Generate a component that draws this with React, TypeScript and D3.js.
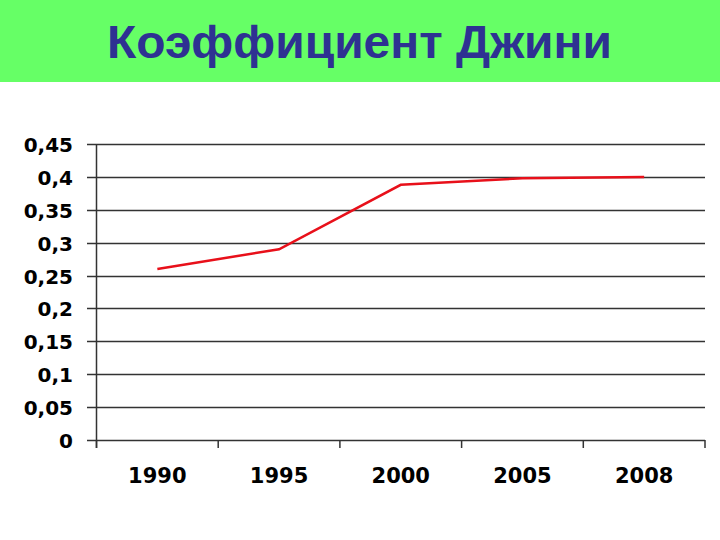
import React from "react";
import * as d3 from "d3";

const categories = ["1990", "1995", "2000", "2005", "2008"];
const giniValues = [0.26, 0.29, 0.388, 0.398, 0.4];
const yTicks = [0, 0.05, 0.1, 0.15, 0.2, 0.25, 0.3, 0.35, 0.4, 0.45];
const title = "Коэффициент Джини";

export default function App() {
  const W = 720, H = 540;
  const left = 96.5, right = 705, top = 144, bottom = 440;
  const x = d3.scaleBand<string>().domain(categories).range([left, right]);
  const y = d3.scaleLinear().domain([0, 0.45]).range([bottom, top]);
  const line = d3
    .line<number>()
    .x((_, i) => (x(categories[i]) as number) + x.bandwidth() / 2)
    .y((d) => y(d));
  const fmt = (v: number) => String(+v.toFixed(2)).replace(".", ",");
  const tickXs = [...categories.map((c) => x(c) as number), right];
  return (
    <svg
      width={W}
      height={H}
      style={{ position: "absolute", left: 0, top: 0, background: "#fff" }}
      fontFamily="DejaVu Sans, sans-serif"
    >
      <rect x={0} y={0} width={W} height={82} fill="#66FF66" />
      <text
        x={359.5}
        y={58}
        textAnchor="middle"
        fontSize={46}
        fontWeight="bold"
        fill="#2E3192"
        fontFamily="Liberation Sans, Arial, sans-serif"
        textLength={505}
        lengthAdjust="spacingAndGlyphs"
      >
        {title}
      </text>
      {yTicks.map((t) => (
        <g key={t}>
          <line x1={87} x2={right} y1={Math.round(y(t)) + 0.5} y2={Math.round(y(t)) + 0.5} stroke="#333" strokeWidth={1.5} />
          <text x={73} y={y(t) + 8} textAnchor="end" fontSize={20} fontWeight="bold" fill="#000">
            {fmt(t)}
          </text>
        </g>
      ))}
      <line x1={left} x2={left} y1={top} y2={bottom + 8} stroke="#333" strokeWidth={1.5} />
      {tickXs.map((tx, i) => (
        <line key={i} x1={tx} x2={tx} y1={bottom} y2={bottom + 8} stroke="#333" strokeWidth={1.5} />
      ))}
      {categories.map((c) => (
        <text
          key={c}
          x={(x(c) as number) + x.bandwidth() / 2}
          y={483}
          textAnchor="middle"
          fontSize={21}
          fontWeight="bold"
          fill="#000"
        >
          {c}
        </text>
      ))}
      <path d={line(giniValues) || ""} fill="none" stroke="#E8101A" strokeWidth={2.5} />
    </svg>
  );
}
